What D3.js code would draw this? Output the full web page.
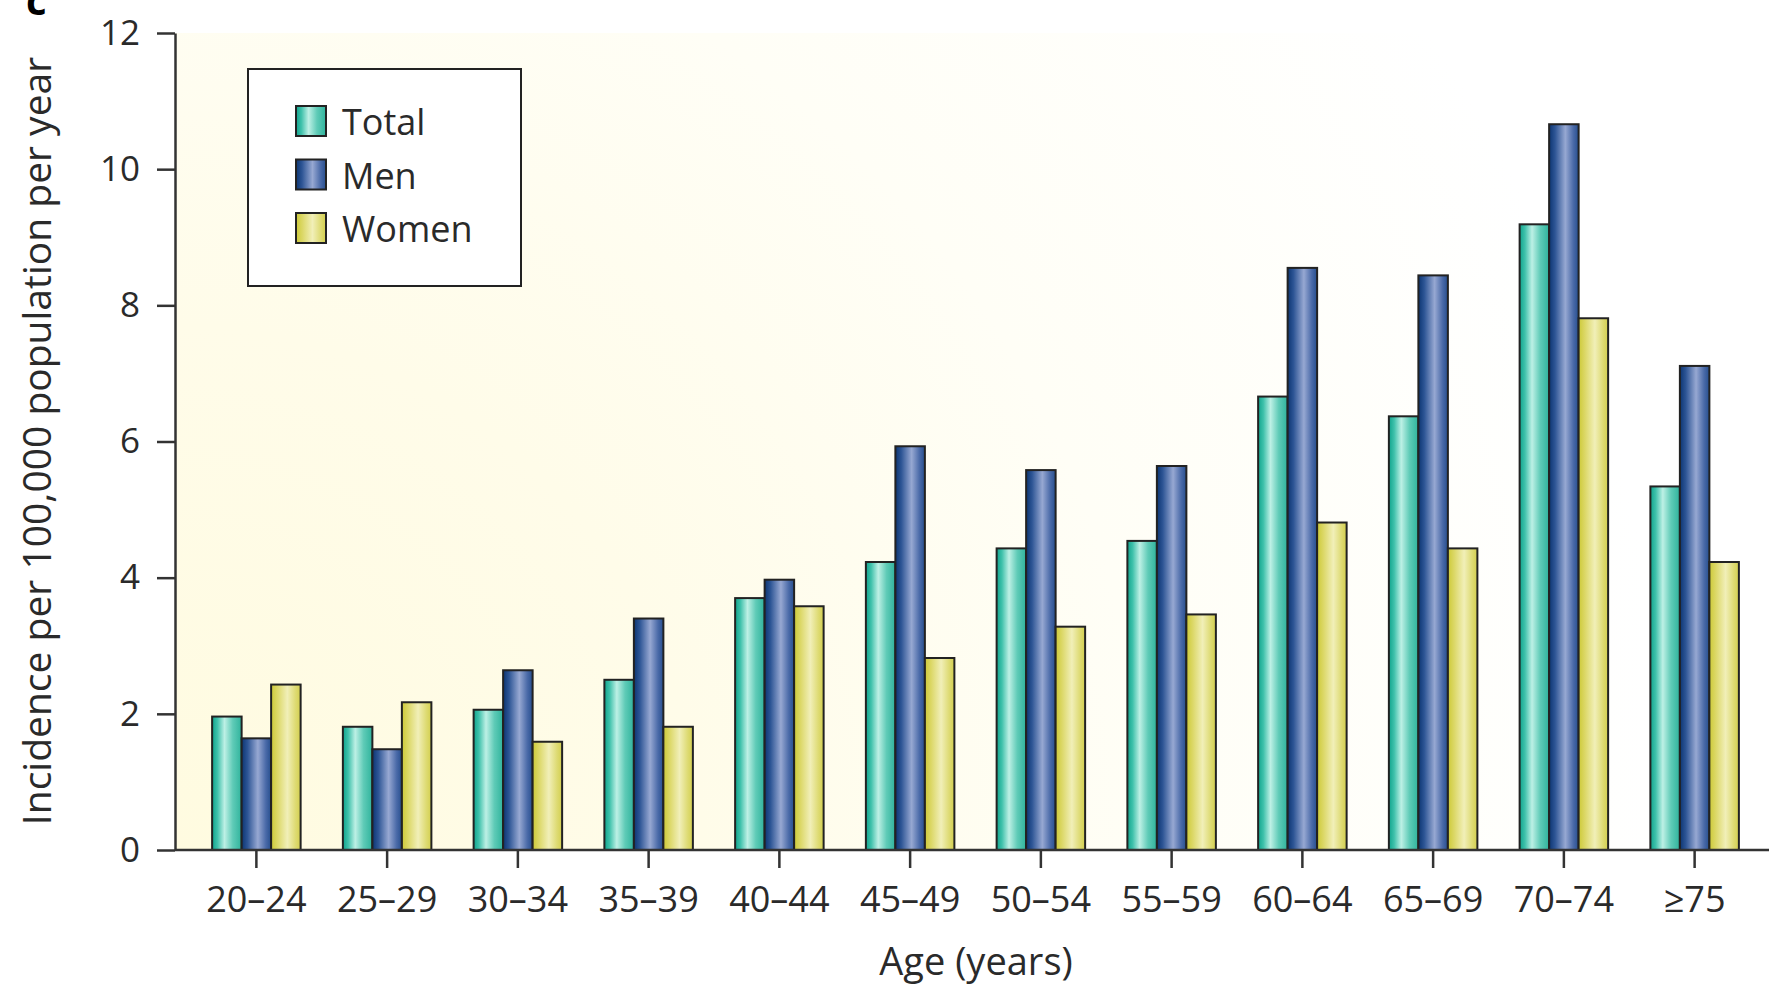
<!DOCTYPE html>
<html>
<head>
<meta charset="utf-8">
<script src="https://cdn.jsdelivr.net/npm/d3@7"></script>
<style>
  html, body { margin: 0; padding: 0; background: #ffffff; }
  svg { display: block; }
  text { font-family: "Open Sans", "DejaVu Sans", sans-serif; fill: #2a2a2a; }
</style>
</head>
<body>
<div id="chart"></div>
<script>
// ---- Data ----
const categories = ["20–24", "25–29", "30–34", "35–39", "40–44", "45–49", "50–54", "55–59", "60–64", "65–69", "70–74", "≥75"];
const seriesNames = ["Total", "Men", "Women"];
const totalValues = [1.96, 1.81, 2.06, 2.50, 3.70, 4.23, 4.43, 4.54, 6.66, 6.37, 9.19, 5.34];
const menValues   = [1.64, 1.48, 2.64, 3.40, 3.97, 5.93, 5.58, 5.64, 8.55, 8.44, 10.66, 7.11];
const womenValues = [2.43, 2.17, 1.59, 1.81, 3.58, 2.82, 3.28, 3.46, 4.81, 4.43, 7.81, 4.23];
const yTicks = [0, 2, 4, 6, 8, 10, 12];
const yTitle = "Incidence per 100,000 population per year";
const xTitle = "Age (years)";

const seriesValues = { "Total": totalValues, "Men": menValues, "Women": womenValues };
const rows = categories.map((c, i) => ({ cat: c, vals: seriesNames.map(s => ({ key: s, value: seriesValues[s][i] })) }));

// ---- Layout ----
const W = 1769, H = 987;
const axisX = 175, plotTop = 33, plotBottom = 850, plotRight = W;

const svg = d3.select("#chart").append("svg").attr("width", W).attr("height", H);
const defs = svg.append("defs");

// background radial gradient
const bg = defs.append("radialGradient").attr("id", "bgGrad")
  .attr("gradientUnits", "userSpaceOnUse")
  .attr("cx", axisX).attr("cy", plotBottom).attr("r", 1500);
bg.append("stop").attr("offset", "0%").attr("stop-color", "#fffbe0");
bg.append("stop").attr("offset", "35%").attr("stop-color", "#fffce9");
bg.append("stop").attr("offset", "65%").attr("stop-color", "#fffef6");
bg.append("stop").attr("offset", "100%").attr("stop-color", "#ffffff");

// bar gradients
const gradSpecs = {
  "Total": [["0%", "#10a48d"], ["18%", "#3fc1ab"], ["42%", "#bdf0e5"], ["70%", "#5fcbb7"], ["100%", "#2fb39c"]],
  "Men":   [["0%", "#0c3572"], ["20%", "#2d5595"], ["55%", "#97a8d2"], ["82%", "#4a6aa8"], ["100%", "#264e8e"]],
  "Women": [["0%", "#cdca38"], ["22%", "#dcd868"], ["55%", "#f1efb8"], ["82%", "#dedb74"], ["100%", "#d3cf4e"]]
};
seriesNames.forEach(s => {
  const g = defs.append("linearGradient").attr("id", "grad" + s)
    .attr("x1", "0%").attr("x2", "100%").attr("y1", "0%").attr("y2", "0%");
  gradSpecs[s].forEach(([o, c]) => g.append("stop").attr("offset", o).attr("stop-color", c));
});

// plot background
svg.append("rect")
  .attr("x", axisX).attr("y", plotTop)
  .attr("width", plotRight - axisX).attr("height", plotBottom - plotTop)
  .attr("fill", "url(#bgGrad)");

// scales
const x = d3.scaleBand().domain(categories).range([191, 1760]).padding(0);
const groupWidth = 88.5;
const x1 = d3.scaleBand().domain(seriesNames).range([0, groupWidth]).padding(0);
const y = d3.scaleLinear().domain([0, 12]).range([plotBottom, plotTop]);

// bars
const groups = svg.append("g").selectAll("g").data(rows).join("g")
  .attr("transform", d => `translate(${x(d.cat) + x.bandwidth() / 2 - groupWidth / 2},0)`);
groups.selectAll("rect").data(d => d.vals).join("rect")
  .attr("x", d => x1(d.key))
  .attr("y", d => y(d.value))
  .attr("width", x1.bandwidth())
  .attr("height", d => y(0) - y(d.value))
  .attr("fill", d => `url(#grad${d.key})`)
  .attr("stroke", "#222")
  .attr("stroke-width", 2);

// y axis
const yAxis = svg.append("g").attr("transform", `translate(${axisX},0)`)
  .call(d3.axisLeft(y).tickValues(yTicks).tickSize(18).tickSizeOuter(0).tickPadding(17));
yAxis.select(".domain").attr("stroke", "#333").attr("stroke-width", 2.5);
yAxis.selectAll(".tick line").attr("stroke", "#333").attr("stroke-width", 2.5);
yAxis.selectAll(".tick text").attr("font-size", 35).attr("fill", "#2a2a2a")
  .style("font-family", '"Open Sans", sans-serif');

// x axis
const xAxis = svg.append("g").attr("transform", `translate(0,${plotBottom})`)
  .call(d3.axisBottom(x).tickSize(18).tickSizeOuter(0).tickPadding(18));
xAxis.select(".domain").remove();
xAxis.selectAll(".tick line").attr("stroke", "#333").attr("stroke-width", 2.5);
xAxis.selectAll(".tick text").attr("font-size", 36).attr("fill", "#2a2a2a")
  .style("font-family", '"Open Sans", sans-serif');
svg.append("line")
  .attr("x1", axisX).attr("x2", plotRight)
  .attr("y1", plotBottom).attr("y2", plotBottom)
  .attr("stroke", "#333").attr("stroke-width", 2.5);

// axis titles
svg.append("text")
  .attr("x", (axisX + plotRight) / 2 + 4).attr("y", 975)
  .attr("text-anchor", "middle").attr("font-size", 38)
  .text(xTitle);
svg.append("text")
  .attr("transform", `translate(51,441) rotate(-90)`)
  .attr("text-anchor", "middle").attr("font-size", 39)
  .text(yTitle);

// panel letter (cut at top, as in the source figure)
svg.append("text").attr("x", 26).attr("y", 15)
  .attr("font-size", 40).attr("font-weight", "bold").style("fill", "#000")
  .text("c");

// legend
const legend = svg.append("g");
legend.append("rect").attr("x", 248).attr("y", 69).attr("width", 273).attr("height", 217)
  .attr("fill", "#ffffff").attr("stroke", "#222").attr("stroke-width", 2);
const legendY = d3.scalePoint().domain(seriesNames).range([106, 213]);
const li = legend.selectAll("g.item").data(seriesNames).join("g").attr("class", "item")
  .attr("transform", d => `translate(296,${legendY(d)})`);
li.append("rect").attr("width", 30).attr("height", 30)
  .attr("fill", d => `url(#grad${d})`).attr("stroke", "#222").attr("stroke-width", 2);
li.append("text").attr("x", 46).attr("y", 29).attr("font-size", 36).text(d => d);
</script>
</body>
</html>
